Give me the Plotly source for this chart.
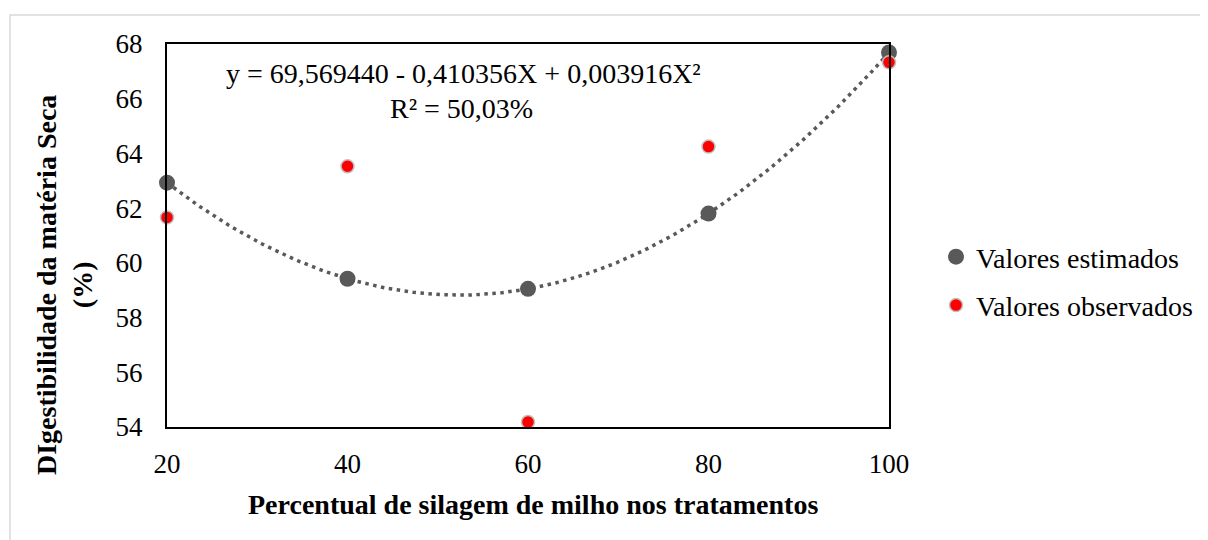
import numpy as np
import plotly.graph_objects as go

x_vals = [20, 40, 60, 80, 100]
estimados = [62.93, 59.42, 59.05, 61.80, 67.69]
observados = [61.66, 63.53, 54.18, 64.25, 67.33]
x_ticks = [20, 40, 60, 80, 100]
y_ticks = [54, 56, 58, 60, 62, 64, 66, 68]
eq_text = "y = 69,569440 - 0,410356X + 0,003916X²"
r2_text = "R² = 50,03%"

W, H = 1208, 540
OFF = 8  # page body offset
# target plot area in screen pixels
SL, SR, ST, SB = 167, 889, 44, 427
L, R, T, B = SL - OFF, SR - OFF, ST - OFF, SB - OFF


def px(xs_):
    return (xs_ - OFF - L) / (R - L)


def py(ys_):
    return (B - (ys_ - OFF)) / (B - T)


coef = np.polyfit(x_vals, estimados, 2)
xs = np.linspace(20, 100, 200)
ys = np.polyval(coef, xs)

FONT = "Liberation Serif"

fig = go.Figure()
fig.add_trace(go.Scatter(x=xs, y=ys, mode="lines", showlegend=False, hoverinfo="skip",
                         line=dict(color="#595959", width=3.5, dash="3.5px,4.5px"), cliponaxis=False))
fig.add_trace(go.Scatter(x=x_vals, y=estimados, mode="markers", name="Valores estimados",
                         legendgroup="a",
                         marker=dict(color="#595959", size=16, line=dict(width=0)), cliponaxis=False))
fig.add_trace(go.Scatter(x=x_vals, y=observados, mode="markers", name="Valores observados",
                         legendgroup="b",
                         marker=dict(color="#ff0000", size=13, line=dict(color="#bfbfbf", width=1.5)),
                         cliponaxis=False))

fig.update_layout(
    width=W, height=H,
    margin=dict(l=L, r=W - R, t=T, b=H - B, pad=0),
    paper_bgcolor="white", plot_bgcolor="white",
    font=dict(family=FONT, size=20, color="#000000"),
    legend=dict(x=px(936), y=py(281), xanchor="left", yanchor="middle",
                font=dict(family=FONT, size=28, color="#000000"),
                itemwidth=30, tracegroupgap=9, traceorder="grouped",
                bgcolor="rgba(0,0,0,0)"),
    xaxis=dict(range=[20, 100], tickvals=x_ticks, ticktext=[str(v) for v in x_ticks],
               showgrid=False, zeroline=False, showline=True, mirror=True,
               linecolor="#000000", linewidth=2, ticks="", ticklabelstandoff=12,
               tickfont=dict(family=FONT, size=27)),
    yaxis=dict(range=[54, 68], tickvals=y_ticks, ticktext=[str(v) for v in y_ticks],
               showgrid=False, zeroline=False, showline=True, mirror=True,
               linecolor="#000000", linewidth=2, ticks="", ticklabelstandoff=17,
               tickfont=dict(family=FONT, size=27)),
    shapes=[dict(type="rect", xref="paper", yref="paper",
                 x0=px(10), x1=px(1260), y0=py(620), y1=py(15),
                 line=dict(color="#d9d9d9", width=1.5), fillcolor="rgba(0,0,0,0)", layer="below")],
    annotations=[
        dict(text=eq_text, xref="paper", yref="paper", x=px(463), y=py(74),
             xanchor="center", yanchor="middle", showarrow=False,
             font=dict(family=FONT, size=28, color="#000000")),
        dict(text=r2_text, xref="paper", yref="paper", x=px(461), y=py(109),
             xanchor="center", yanchor="middle", showarrow=False,
             font=dict(family=FONT, size=28, color="#000000")),
        dict(text="<b>Percentual de silagem de milho nos tratamentos</b>", xref="paper", yref="paper",
             x=px(533), y=py(504), xanchor="center", yanchor="middle", showarrow=False,
             font=dict(family=FONT, size=28, color="#000000")),
        dict(text="<b>DIgestibilidade da matéria Seca<br>(%)</b>", xref="paper", yref="paper",
             x=px(64), y=py(285), xanchor="center", yanchor="middle", showarrow=False,
             textangle=-90, font=dict(family=FONT, size=28, color="#000000")),
    ],
)

fig.write_html("out.html")
